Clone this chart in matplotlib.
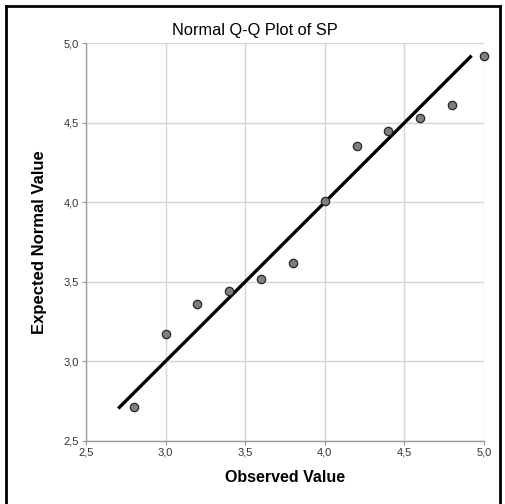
import matplotlib.pyplot as plt
from matplotlib.lines import Line2D

plt.rcParams['font.family'] = ['Liberation Sans', 'DejaVu Sans']

# data
observed = [2.8, 3.0, 3.2, 3.4, 3.6, 3.8, 4.0, 4.2, 4.4, 4.6, 4.8, 5.0]
expected = [2.71, 3.17, 3.36, 3.44, 3.52, 3.62, 4.01, 4.355, 4.45, 4.53, 4.61, 4.92]
line_ends = [2.71, 4.915]
ticks = [2.5, 3.0, 3.5, 4.0, 4.5, 5.0]
tick_labels = ["2,5", "3,0", "3,5", "4,0", "4,5", "5,0"]

fig = plt.figure(figsize=(5.05, 5.04), dpi=100)
ax = fig.add_axes([86 / 505, 1 - 440.7 / 504, 398 / 505, 397.4 / 504])

ax.plot(line_ends, line_ends, color='black', linewidth=2.4, zorder=3)
ax.scatter(observed, expected, s=36, facecolor='#7f7f7f', edgecolor='#262626',
           linewidth=0.9, zorder=4, clip_on=False)

ax.set_xlim(2.5, 5.0)
ax.set_ylim(2.5, 5.0)
ax.set_xticks(ticks)
ax.set_xticklabels(tick_labels)
ax.set_yticks(ticks)
ax.set_yticklabels(tick_labels)
ax.tick_params(labelsize=8, colors='#333333', length=3, width=0.8,
               color='#9a9a9a', pad=2)
ax.grid(True, color='#d4d4d4', linewidth=1.0)
ax.set_axisbelow(True)
for side in ['top', 'right']:
    ax.spines[side].set_visible(False)
for side in ['left', 'bottom']:
    ax.spines[side].set_color('#9a9a9a')
    ax.spines[side].set_linewidth(1.0)

# title is centred on the whole figure
fig.text(255 / 505, 1 - 31 / 504, "Normal Q-Q Plot of SP", fontsize=11.8,
         ha='center', va='center')
ax.set_xlabel("Observed Value", fontsize=11.5, fontweight='bold', labelpad=9)
ax.set_ylabel("Expected Normal Value", fontsize=12, fontweight='bold', labelpad=12)

# outer frame (left, top, right)
frame_kw = dict(color='black', linewidth=2, transform=fig.transFigure)
fig.add_artist(Line2D([6 / 505, 6 / 505], [0, 1 - 6 / 504], **frame_kw))
fig.add_artist(Line2D([6 / 505, 500 / 505], [1 - 6 / 504, 1 - 6 / 504], **frame_kw))
fig.add_artist(Line2D([500 / 505, 500 / 505], [0, 1 - 6 / 504], **frame_kw))

fig.savefig("out.png", dpi=100)
